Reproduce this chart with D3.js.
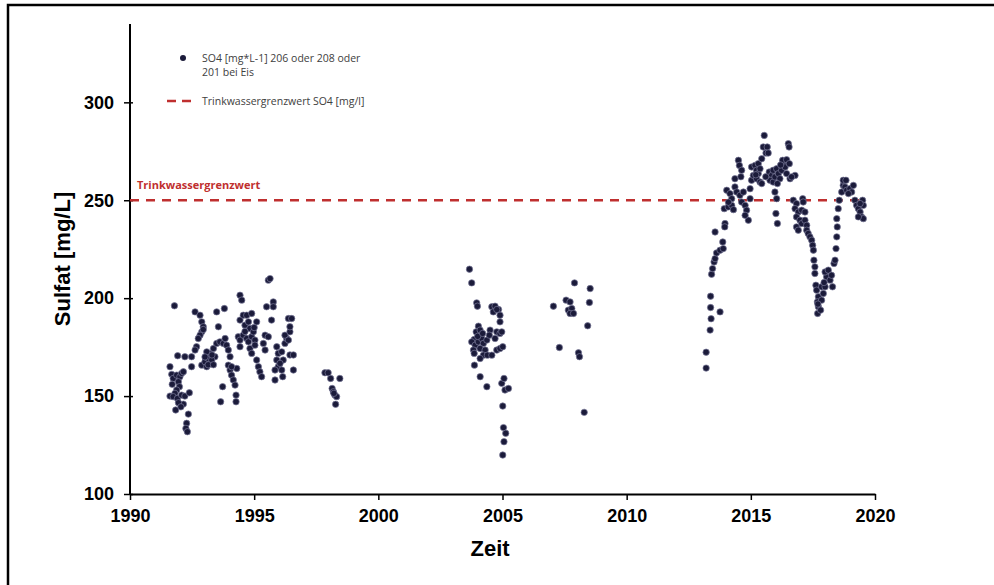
<!DOCTYPE html>
<html lang="de">
<head>
<meta charset="UTF-8">
<title>Sulfat</title>
<script src="https://cdn.jsdelivr.net/npm/d3@7"></script>
<style>
  body { margin: 0; background: #fff; }
  svg { display: block; }
</style>
</head>
<body>
<div id="chart"></div>
<script>
const messungen1991 = [
  [1991.79,196.1],[1991.61,165.0],[1991.68,161.1],[1991.74,159.0],[1991.88,160.7],[1992.01,159.9],
  [1991.95,157.3],[1992.08,161.6],[1992.15,162.4],[1991.99,154.8],[1991.88,153.1],[1991.81,151.4],
  [1991.61,150.0],[1991.74,149.7],[1991.91,148.8],[1992.08,150.5],[1992.21,150.0],[1992.39,151.7],
  [1992.15,145.9],[1991.95,146.6],[1991.84,142.9],[1992.35,140.8],[1992.28,136.1],[1992.25,133.5],
  [1992.31,131.8],[1991.92,170.6],[1992.21,170.1],[1992.48,165.0],[1991.70,156.0],[1992.05,144.5]
];
const messungen1993 = [
  [1992.62,193.0],[1992.82,191.3],[1992.89,187.9],[1992.95,185.4],[1992.89,182.8],[1992.82,181.1],
  [1992.75,179.4],[1992.68,175.2],[1992.62,173.5],[1992.48,170.1],[1992.89,165.8],[1993.02,167.5],
  [1993.09,165.0],[1993.22,166.7],[1993.15,169.2],[1993.22,171.8],[1993.36,174.3],[1993.42,170.1],
  [1993.29,168.4],[1993.09,172.6],[1993.49,176.9],[1993.56,185.4],[1993.49,193.0],[1993.80,194.7],
  [1993.62,177.7],[1993.76,176.9],[1993.83,179.4],[1993.89,176.0],[1993.73,154.8],[1993.65,147.1],
  [1993.96,173.5],[1994.03,170.1],[1993.96,165.8],[1994.03,163.3],[1994.09,160.7],[1994.16,158.2],
  [1994.23,155.6],[1994.27,150.5],[1994.27,147.1],[1994.30,164.1],[1994.09,165.0],[1992.95,184.0],
  [1993.02,170.0],[1993.15,166.0],[1993.30,171.0],[1993.36,166.0]
];
const messungen1995 = [
  [1994.43,201.5],[1994.50,199.0],[1994.43,188.8],[1994.56,191.3],[1994.63,186.2],[1994.70,191.3],
  [1994.77,187.9],[1994.90,192.2],[1994.83,184.5],[1994.36,180.3],[1994.43,178.6],[1994.56,181.1],
  [1994.70,179.4],[1994.43,175.2],[1994.77,177.7],[1994.90,180.3],[1994.97,182.8],[1995.03,178.6],
  [1994.83,174.3],[1994.90,171.8],[1995.03,176.0],[1995.10,168.4],[1995.17,165.0],[1995.23,162.4],
  [1995.30,159.9],[1995.10,187.9],[1995.57,209.2],[1995.64,210.0],[1995.50,195.6],[1995.77,198.1],
  [1995.77,195.6],[1995.70,188.8],[1995.44,181.1],[1995.57,180.3],[1995.37,176.9],[1995.44,173.5],
  [1995.91,175.2],[1995.97,171.8],[1995.91,168.4],[1995.97,165.0],[1995.84,163.3],[1996.11,163.3],
  [1996.17,168.4],[1996.11,172.6],[1996.24,176.9],[1996.31,179.4],[1996.24,181.1],[1996.38,178.6],
  [1996.44,182.8],[1996.44,185.4],[1996.38,189.6],[1996.51,189.6],[1996.44,171.0],[1996.58,171.0],
  [1996.58,163.3],[1995.84,158.2],[1996.15,159.9],[1996.04,166.7],[1994.63,183.0],[1995.00,185.0]
];
const messungen1998 = [
  [1997.85,161.9],[1997.98,161.9],[1998.08,159.0],[1998.45,159.0],[1998.14,153.9],[1998.19,152.2],
  [1998.25,150.5],[1998.32,149.7],[1998.28,145.8],[1998.21,151.4]
];
const messungen2004 = [
  [2003.67,214.8],[2003.76,207.8],[2003.96,197.6],[2003.99,195.9],[2004.03,185.7],[2003.94,182.8],
  [2004.10,183.7],[2003.86,178.9],[2003.76,177.7],[2003.90,176.0],[2003.83,173.5],[2003.86,171.8],
  [2004.03,177.7],[2004.16,179.4],[2004.23,176.9],[2004.10,174.3],[2004.30,173.5],[2004.23,170.9],
  [2004.39,170.9],[2004.57,170.9],[2004.37,178.6],[2004.50,183.7],[2004.47,181.1],[2004.77,182.8],
  [2004.90,182.0],[2004.97,182.8],[2004.70,179.4],[2004.77,173.5],[2004.90,174.3],[2005.01,175.2],
  [2004.10,169.2],[2003.87,165.8],[2004.10,159.9],[2004.37,154.8],[2004.57,195.6],[2004.70,195.9],
  [2004.84,194.2],[2004.63,193.0],[2004.90,191.3],[2004.90,187.9],[2004.77,194.2],[2004.97,156.5],
  [2005.06,159.0],[2005.10,153.1],[2005.24,153.9],[2005.01,144.9],[2005.04,133.9],[2005.13,131.0],
  [2005.06,126.7],[2005.01,119.9],[2004.00,180.5],[2004.20,182.0]
];
const messungen2007 = [
  [2007.05,195.9],[2007.29,174.8],[2007.56,199.0],[2007.72,198.1],[2007.65,193.9],[2007.79,194.7],
  [2007.72,192.2],[2007.86,192.2],[2007.90,207.8],[2008.06,172.1],[2008.10,170.1],[2008.29,141.7],
  [2008.43,185.9],[2008.50,197.8],[2008.53,204.9]
];
const messungen2013 = [
  [2013.20,172.4],[2013.20,164.3],[2013.36,183.7],[2013.40,189.5],[2013.38,201.0],[2013.38,195.2],
  [2013.76,193.0],[2013.42,212.2],[2013.46,215.1],[2013.52,218.5],[2013.56,220.2],[2013.62,223.1],
  [2013.76,224.5],[2013.89,225.3],[2013.87,228.7],[2013.56,233.8],[2013.96,238.1],[2013.95,236.4],
  [2013.93,245.7],[2014.09,246.6],[2014.23,247.4],[2014.30,245.2],[2014.03,255.1],[2014.16,253.4],
  [2014.23,250.8],[2014.36,256.8],[2014.43,254.2],[2014.56,252.5],[2014.70,254.2],[2014.63,249.1],
  [2014.50,270.4],[2014.54,267.8],[2014.63,265.3],[2014.36,261.0],[2014.77,247.4],[2014.83,244.9],
  [2014.90,239.8],[2014.77,242.3],[2014.97,250.8],[2014.97,255.9],[2015.03,260.2],[2015.10,262.7],
  [2015.03,267.0],[2015.17,267.8],[2015.23,265.3],[2015.30,263.6],[2015.23,261.0],[2015.37,259.3],
  [2015.44,258.5],[2015.30,268.7],[2015.37,266.1],[2015.44,271.2],[2015.54,283.1],[2015.50,277.2],
  [2015.66,277.2],[2015.61,274.1],[2015.70,274.1],[2015.74,264.4],[2015.84,262.7],[2015.77,260.2],
  [2015.90,259.3],[2015.97,261.9],[2015.90,265.3],[2016.04,266.1],[2016.11,263.6],[2016.17,261.0],
  [2016.07,258.5],[2015.97,254.2],[2016.04,250.8],[2016.01,243.2],[2016.07,238.1],[2016.24,265.3],
  [2016.31,268.7],[2016.38,267.0],[2016.28,270.4],[2016.44,270.7],[2016.51,278.9],[2016.54,277.2],
  [2016.55,268.7],[2016.44,263.6],[2016.58,261.0],[2016.78,262.7],[2016.64,261.9],[2015.20,263.0],
  [2015.60,262.0],[2016.20,268.0],[2014.60,262.0],[2014.10,249.0]
];
const messungen2017 = [
  [2016.71,250.0],[2016.84,248.3],[2017.09,250.8],[2017.11,249.1],[2016.78,245.7],[2016.91,244.0],
  [2017.05,244.9],[2016.84,241.5],[2016.98,239.8],[2017.18,244.0],[2016.84,236.4],[2016.91,234.7],
  [2017.05,238.1],[2017.18,239.8],[2017.25,237.2],[2017.25,234.7],[2017.31,233.0],[2017.38,231.3],
  [2017.45,229.6],[2017.49,227.0],[2017.52,224.5],[2017.54,219.4],[2017.58,216.0],[2017.58,212.6],
  [2017.62,206.6],[2017.65,204.1],[2017.72,200.7],[2017.68,198.1],[2017.72,195.6],[2017.69,192.2],
  [2017.81,193.9],[2017.85,199.0],[2017.92,202.4],[2017.85,205.8],[2017.99,205.8],[2018.05,210.9],
  [2017.99,213.4],[2018.12,214.3],[2018.19,209.2],[2018.29,205.8],[2018.25,211.7],[2018.35,217.7],
  [2018.39,219.4],[2018.43,225.3],[2018.46,231.3],[2018.48,236.4],[2018.46,240.6],[2018.52,245.7],
  [2018.56,250.0],[2018.66,254.2],[2018.72,257.6],[2018.72,260.2],[2018.83,260.2],[2018.79,256.8],
  [2018.86,255.1],[2018.99,255.9],[2019.06,254.2],[2018.93,253.4],[2019.13,257.6],[2019.19,250.0],
  [2019.26,247.4],[2019.33,245.7],[2019.40,244.0],[2019.46,241.5],[2019.53,240.6],[2019.50,250.0],
  [2019.53,247.4],[2019.40,248.3],[2019.33,241.5],[2017.70,197.0],[2017.95,208.0]
];
const messungen = [].concat(messungen1991, messungen1993, messungen1995, messungen1998,
  messungen2004, messungen2007, messungen2013, messungen2017);

const grenzwert = 250;
const xTicks = [1990, 1995, 2000, 2005, 2010, 2015, 2020];
const yTicks = [100, 150, 200, 250, 300];
const legendeText = ["SO4  [mg*L-1] 206 oder 208 oder", "201 bei Eis"];
const legendeGrenzwert = "Trinkwassergrenzwert SO4 [mg/l]";

const width = 994, height = 585;
const rot = "#bf2f2f";

const svg = d3.select("#chart").append("svg")
  .attr("width", width)
  .attr("height", height);

// Rahmen (nur oben und links sichtbar)
svg.append("path")
  .attr("d", `M8,${height} L8,5 L${width},5`)
  .attr("fill", "none")
  .attr("stroke", "#000")
  .attr("stroke-width", 2.5);

const x = d3.scaleLinear().domain([1990, 2020]).range([130, 875]);
const y = d3.scaleLinear().domain([100, 340]).range([494, 24]);

// Achsen
const xAxis = svg.append("g")
  .attr("transform", `translate(0,${y(100)})`)
  .call(d3.axisBottom(x).tickValues(xTicks).tickFormat(d3.format("d")).tickSize(6).tickSizeOuter(0));
const yAxis = svg.append("g")
  .attr("transform", `translate(${x(1990)},0)`)
  .call(d3.axisLeft(y).tickValues(yTicks).tickSize(6).tickSizeOuter(0));

[xAxis, yAxis].forEach(g => {
  g.select(".domain").attr("stroke", "#000").attr("stroke-width", 2);
  g.selectAll(".tick line").attr("stroke", "#000").attr("stroke-width", 1.5);
  g.selectAll(".tick text")
    .attr("fill", "#000")
    .style("font-family", "'Liberation Sans', Arial, sans-serif")
    .style("font-weight", "bold")
    .style("font-size", "18px");
});
xAxis.selectAll(".tick text").attr("dy", "1.05em");
yAxis.selectAll(".tick text").attr("x", -16);
yAxis.selectAll(".tick line").attr("x2", -6).attr("x1", 3);
// y-Achse reicht bis oben
yAxis.select(".domain").attr("d", `M0,${y(340)}V${y(100)}`);

// Achsentitel
svg.append("text")
  .attr("x", x(2004.5))
  .attr("y", 556)
  .attr("text-anchor", "middle")
  .style("font-family", "'Liberation Sans', Arial, sans-serif")
  .style("font-weight", "bold")
  .style("font-size", "22px")
  .text("Zeit");

svg.append("text")
  .attr("transform", `translate(70,${y(220)}) rotate(-90)`)
  .attr("text-anchor", "middle")
  .style("font-family", "'Liberation Sans', Arial, sans-serif")
  .style("font-weight", "bold")
  .style("font-size", "22px")
  .text("Sulfat [mg/L]");

// Grenzwertlinie
svg.append("line")
  .attr("x1", x(1990)).attr("x2", x(2019.6))
  .attr("y1", y(grenzwert)).attr("y2", y(grenzwert))
  .attr("stroke", rot)
  .attr("stroke-width", 2.5)
  .attr("stroke-dasharray", "9,7");

svg.append("text")
  .attr("x", 137)
  .attr("y", y(grenzwert) - 11)
  .attr("fill", rot)
  .style("font-family", "'Open Sans', sans-serif")
  .style("font-weight", "bold")
  .style("font-size", "11px")
  .text("Trinkwassergrenzwert");

// Messpunkte
svg.append("g")
  .selectAll("circle")
  .data(messungen)
  .join("circle")
  .attr("cx", d => x(d[0]))
  .attr("cy", d => y(d[1]))
  .attr("r", 3.2)
  .attr("fill", "#1b1b3a")
  .attr("stroke", "#7a7a9a")
  .attr("stroke-width", 0.7);

// Legende
const legende = svg.append("g")
  .style("font-family", "'Open Sans', sans-serif")
  .style("font-size", "10.5px")
  .style("white-space", "pre")
  .attr("fill", "#404040");

legende.append("circle")
  .attr("cx", 183).attr("cy", 58).attr("r", 3)
  .attr("fill", "#1b1b3a");
legende.selectAll("text.so4")
  .data(legendeText)
  .join("text")
  .attr("class", "so4")
  .attr("x", 202)
  .attr("y", (d, i) => 62 + i * 14)
  .text(d => d);

legende.append("line")
  .attr("x1", 167).attr("x2", 197)
  .attr("y1", 101).attr("y2", 101)
  .attr("stroke", rot)
  .attr("stroke-width", 2.5)
  .attr("stroke-dasharray", "9,6");
legende.append("text")
  .attr("x", 202)
  .attr("y", 105)
  .text(legendeGrenzwert);
</script>
</body>
</html>
